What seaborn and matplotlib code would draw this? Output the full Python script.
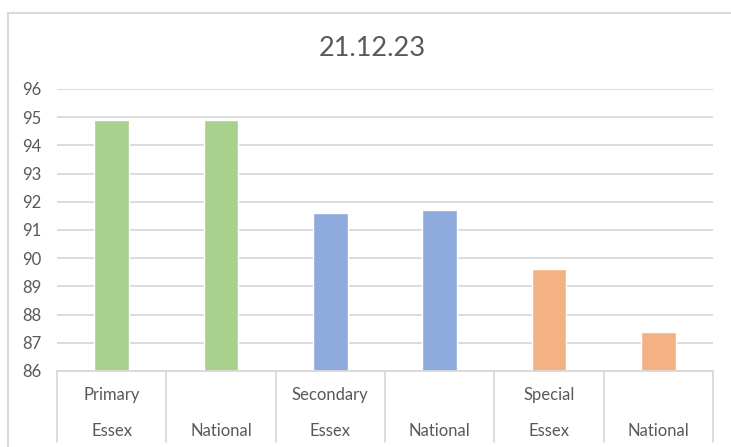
import pandas as pd
import matplotlib.pyplot as plt
import seaborn as sns
from matplotlib.patches import Rectangle

# Chart data
groups = ['Primary', 'Secondary', 'Special']
areas = ['Essex', 'National', 'Essex', 'National', 'Essex', 'National']
values = [94.9, 94.9, 91.6, 91.7, 89.6, 87.4]
colors = ['#A9D18E', '#A9D18E', '#8FAADC', '#8FAADC', '#F4B183', '#F4B183']
y_ticks = list(range(86, 97))

labels = [f'{groups[i // 2]} {a}' for i, a in enumerate(areas)]
df = pd.DataFrame({'label': labels, 'value': values})

sns.set_style('white')
plt.rcParams['font.family'] = ['Lato', 'DejaVu Sans']
text_color = '#595959'
line_color = '#D9D9D9'

fig = plt.figure(figsize=(7.31, 4.47), dpi=100)
W, H = 731, 447
ax = fig.add_axes([57 / W, (H - 371) / H, (713 - 57) / W, (371 - 89) / H])

sns.barplot(data=df, x='label', y='value', hue='label', palette=colors,
            legend=False, width=0.32, ax=ax, saturation=1)

ax.set_ylim(86, 96)
ax.set_xlim(-0.5, 5.5)
ax.set_yticks(y_ticks)
ax.set_yticklabels([str(t) for t in y_ticks], fontsize=12, color=text_color)
ax.tick_params(axis='y', length=0, pad=11.5)
ax.set_xticks([])
ax.set_xlabel('')
ax.set_ylabel('')
ax.yaxis.grid(True, color=line_color, linewidth=1.3)
ax.set_axisbelow(True)
for s in ['left', 'right', 'top']:
    ax.spines[s].set_visible(False)
ax.spines['bottom'].set_color(line_color)
ax.spines['bottom'].set_linewidth(1.3)

# Multi-level category axis
tr = ax.get_xaxis_transform()
row1 = -(395 - 371) / (371 - 89)
row2 = -(431 - 371) / (371 - 89)
line_bottom = -(442 - 371) / (371 - 89)
for i, a in enumerate(areas):
    ax.text(i, row2, a, transform=tr, ha='center', va='center',
            fontsize=12, color=text_color)
for g, grp in enumerate(groups):
    ax.text(g * 2, row1, grp, transform=tr, ha='center', va='center',
            fontsize=12, color=text_color)
for xb in [i - 0.5 for i in range(7)]:
    ax.plot([xb, xb], [0, line_bottom], transform=tr, color=line_color,
            linewidth=1.3, clip_on=False)

# Title and chart border
fig.text(372 / W, 1 - 48 / H, '21.12.23', ha='center', va='center',
         fontsize=19.5, color=text_color)
fig.patches.append(Rectangle((8 / W, -0.1), 1.5, (H - 13) / H + 0.1,
                             transform=fig.transFigure, fill=False,
                             edgecolor=line_color, linewidth=1.5))

fig.savefig('out.png', dpi=100)
